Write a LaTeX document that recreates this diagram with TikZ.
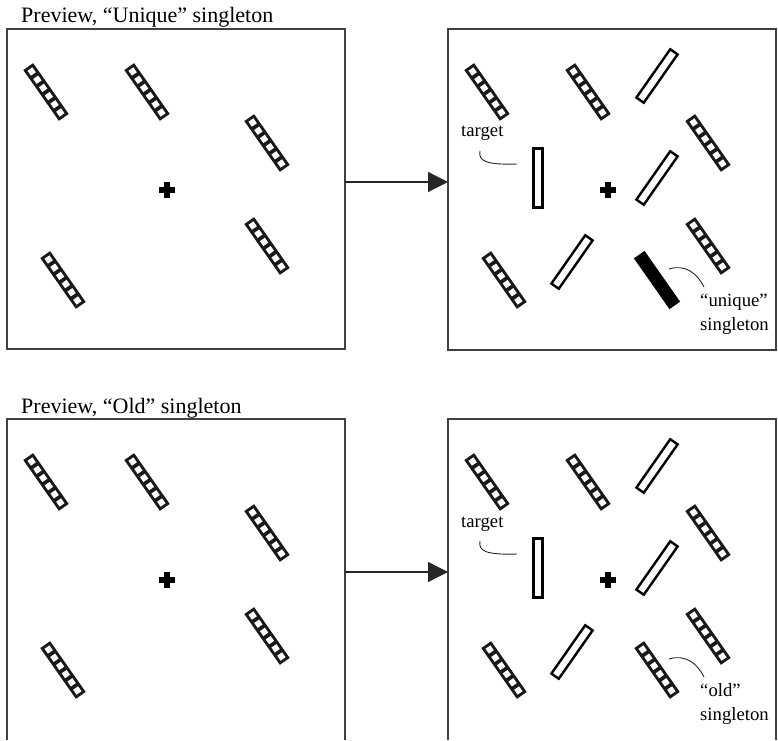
\documentclass[tikz,border=0pt]{standalone}
\usepackage{fontspec}
\setmainfont{Liberation Serif}
\usetikzlibrary{arrows.meta}
\tikzset{
  panel/.style={draw=black!75, line width=1.3pt, inner sep=0pt, outer sep=0pt},
  boxline/.style={draw=black!75, line width=1.3pt},
  conn/.style={-{Triangle[length=20pt,width=20pt]}, line width=1.2pt, draw=black!85, fill=black!85},
  leader/.style={line width=0.9pt, draw=black!85},
  title/.style={anchor=base west, inner sep=0pt, font=\fontsize{22}{26}\selectfont},
  lbl/.style={anchor=base west, inner sep=0pt, font=\fontsize{18.7}{22}\selectfont},
  checkbar/.pic={
    \fill[black!90] (-6,-31) rectangle (6,31);
    \foreach \i in {0,...,5}{
      \fill[white] (-3,{-28+\i*10}) rectangle (3,{-28+\i*10+6});
    }
  },
  openbar/.pic={\draw[line width=2.4pt, fill=white] (-4.5,-29.5) rectangle (4.5,29.5);},
  solidbar/.pic={\fill[black] (-6.5,-31) rectangle (6.5,31);},
  fixcross/.pic={\fill (-8,-2.8) rectangle (8,2.8); \fill (-2.8,-8) rectangle (2.8,8);}
}
\begin{document}
\begin{tikzpicture}[x=1pt,y=1pt]
\useasboundingbox (0,0) rectangle (778,740);
% panels
\node[panel, minimum width=338pt, minimum height=320pt] (tl) at (176,551) {};
\node[panel, minimum width=328pt, minimum height=321pt] (tr) at (612,550.5) {};
\node[panel, draw=none, minimum width=338pt, minimum height=321pt] (bl) at (176,160.5) {};
\node[panel, draw=none, minimum width=328pt, minimum height=321pt] (br) at (612,160.5) {};
\draw[boxline] (bl.south west) |- (bl.north east) -- (bl.south east);
\draw[boxline] (br.south west) |- (br.north east) -- (br.south east);
% titles
\node[title] (t1) at (21,717) {Preview, “Unique” singleton};
\node[title] (t2) at (21,327) {Preview, “Old” singleton};
% arrows
\coordinate (a1) at ([yshift=7pt]tl.east);
\draw[conn] (a1) -- (a1 -| tr.west);
\coordinate (a2) at ([yshift=7.5pt]bl.east);
\draw[conn] (a2) -- (a2 -| br.west);
% common contents
\foreach \dy/\k in {0/1,-390/2}{
  \begin{scope}[shift={(0,\dy)}]
    \foreach \p in {(46,648),(147,648),(267,597),(267,494),(63,460)}
      \pic[rotate=35] at \p {checkbar};
    \pic at (167,550) {fixcross};
    \foreach \p in {(487,648),(588,648),(708,597),(708,494),(504,460)}
      \pic[rotate=35] at \p {checkbar};
    \pic at (608,550) {fixcross};
    \foreach \p in {(657,664),(657,562),(572,478)}
      \pic[rotate=-35] at \p {openbar};
    \pic at (538,562) {openbar};
    \node[lbl] (tgt\k) at (461,603) {target};
    \coordinate (ts\k) at (480,589);
    \coordinate (te\k) at (517,576);
    \draw[leader] (ts\k) .. controls (478,579) and (486,575) .. (te\k);
  \end{scope}
}
% unique singleton
\pic[rotate=35] at (657,460) {solidbar};
\node[lbl] (u1) at (700,434) {“unique”};
\node[lbl] (u2) at (700,410) {singleton};
\coordinate (us) at (669,471);
\coordinate (ue) at (704,453);
\draw[leader] (us) .. controls (685,476) and (697,467) .. (ue);
% old singleton
\pic[rotate=35] at (657,70) {checkbar};
\node[lbl] (o1) at (700,44) {“old”};
\node[lbl] (o2) at (700,20) {singleton};
\coordinate (os) at (669,81);
\coordinate (oe) at (704,63);
\draw[leader] (os) .. controls (685,86) and (697,77) .. (oe);
\end{tikzpicture}
\end{document}
